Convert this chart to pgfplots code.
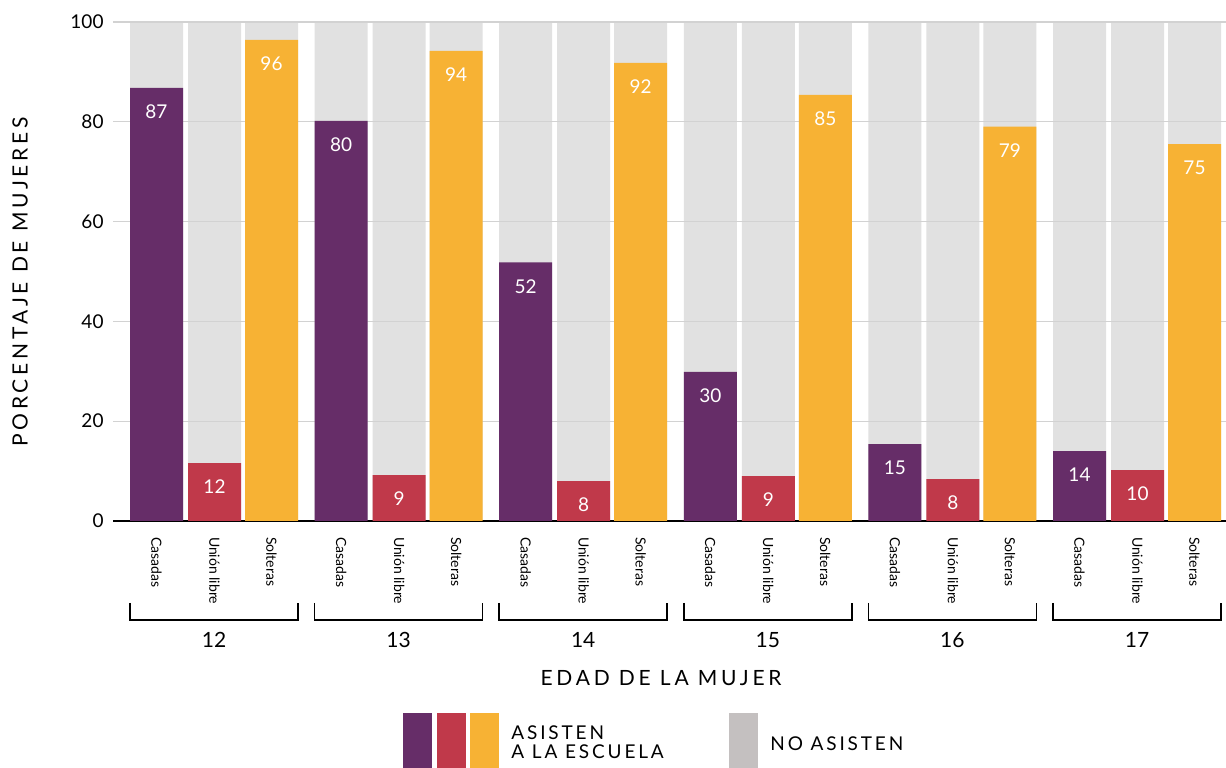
\documentclass[border=0pt]{standalone}
\usepackage{pgfplots}
\usepackage{pgfplotstable}
\pgfplotsset{compat=1.18}
\usepackage{fontspec}
\setmainfont{Lato}
\newfontfamily\spaced[LetterSpace=18]{Lato}
\newfontfamily\lspaced[LetterSpace=15]{Lato}
\definecolor{cpurple}{HTML}{662D68}
\definecolor{cred}{HTML}{C0394A}
\definecolor{corange}{HTML}{F7B234}
\definecolor{cgray}{HTML}{E1E1E1}
\definecolor{clgray}{HTML}{C4C0C0}
\definecolor{cgrid}{HTML}{D2D2D2}

\pgfplotstableread{
x y lab
156.5 86.8 87
341.1 80.2 80
525.7 51.8 52
710.3 29.9 30
894.9 15.4 15
1079.5 14.0 14
}\casadas
\pgfplotstableread{
x y lab
214.5 11.6 12
399.1 9.2 9
583.7 8.0 8
768.3 9.0 9
952.9 8.4 8
1137.5 10.2 10
}\union
\pgfplotstableread{
x y lab
271.5 96.4 96
456.1 94.2 94
640.7 91.8 92
825.3 85.4 85
1009.9 79.0 79
1194.5 75.5 75
}\solteras
\pgfplotstableread{
x y
156.5 100
214.5 100
271.5 100
341.1 100
399.1 100
456.1 100
525.7 100
583.7 100
640.7 100
710.3 100
768.3 100
825.3 100
894.9 100
952.9 100
1009.9 100
1079.5 100
1137.5 100
1194.5 100
}\total

\newcommand{\grp}[4]{%
  \draw[black, line width=0.8pt] (axis cs:#1,-16.4) -- (axis cs:#1,-19.84) -- (axis cs:#2,-19.84) -- (axis cs:#2,-16.4);
  \node[font=\fontsize{10.5}{12}\selectfont] at (axis cs:#3,-23.85) {#4};
}

\begin{document}
\begin{tikzpicture}
\begin{axis}[
  set layers,
  x=0.5pt, y=2.495pt,
  xmin=113, xmax=1226, ymin=0, ymax=100,
  clip=false,
  axis x line=bottom, axis y line=left,
  x axis line style={-, black, line width=1pt, on layer=axis foreground},
  y axis line style={draw=none},
  major tick length=0pt,
  ymajorgrids, grid style={cgrid, line width=0.6pt},
  ytick={0,20,40,60,80,100},
  yticklabel style={font=\fontsize{9.5}{11}\selectfont, xshift=-1.2pt, /pgf/number format/assume math mode=true},
  xtick={156.5,214.5,271.5,341.1,399.1,456.1,525.7,583.7,640.7,710.3,768.3,825.3,894.9,952.9,1009.9,1079.5,1137.5,1194.5},
  xticklabels={Casadas,Unión libre,Solteras,Casadas,Unión libre,Solteras,Casadas,Unión libre,Solteras,Casadas,Unión libre,Solteras,Casadas,Unión libre,Solteras,Casadas,Unión libre,Solteras},
  xticklabel style={rotate=-90, anchor=west, font=\fontsize{7}{8}\selectfont, xshift=4.5pt, yshift=0pt},
  bar width=53, 
  nodes near coords style={anchor=center, yshift=-12pt, text=white, font=\fontsize{9.5}{11}\selectfont},
]
\addplot[ybar, bar shift=0pt, fill=cgray, draw=none, on layer=axis background] table[x=x,y=y]{\total};
\addplot[ybar, bar shift=0pt, fill=cpurple, draw=none, nodes near coords, point meta=explicit symbolic] table[x=x,y=y,meta=lab]{\casadas};
\addplot[ybar, bar shift=0pt, fill=cred, draw=none, nodes near coords, point meta=explicit symbolic] table[x=x,y=y,meta=lab]{\union};
\addplot[ybar, bar shift=0pt, fill=corange, draw=none, nodes near coords, point meta=explicit symbolic] table[x=x,y=y,meta=lab]{\solteras};

\grp{130}{298}{214}{12}
\grp{314.6}{482.6}{398.6}{13}
\grp{499.2}{667.2}{583.2}{14}
\grp{683.8}{851.8}{767.8}{15}
\grp{868.4}{1036.4}{952.4}{16}
\grp{1053}{1221}{1137}{17}
% axis titles
\node[font=\spaced\fontsize{10.5}{12}\selectfont] at (axis cs:661,-31.46) {EDAD DE LA MUJER};
\node[font=\spaced\fontsize{10.5}{12}\selectfont, rotate=90] at (axis cs:20,47.9) {PORCENTAJE DE MUJERES};
% legend
\fill[cpurple] (axis cs:403,-38.48) rectangle (axis cs:432,-49.5);
\fill[cred] (axis cs:437,-38.48) rectangle (axis cs:466,-49.5);
\fill[corange] (axis cs:470,-38.48) rectangle (axis cs:499,-49.5);
\fill[clgray] (axis cs:729,-38.48) rectangle (axis cs:758,-49.5);
\node[anchor=west, inner sep=0pt, font=\lspaced\fontsize{9.5}{11}\selectfont] at (axis cs:511,-42.48) {ASISTEN};
\node[anchor=west, inner sep=0pt, font=\lspaced\fontsize{9.5}{11}\selectfont] at (axis cs:511,-46.29) {A LA ESCUELA};
\node[anchor=west, inner sep=0pt, font=\lspaced\fontsize{9.5}{11}\selectfont] at (axis cs:770,-44.69) {NO ASISTEN};
\coordinate (bbl) at (axis cs:0,-49.5);
\coordinate (btr) at (axis cs:1226,104.4);
\end{axis}
\pgfresetboundingbox
\path[use as bounding box] (bbl) rectangle (btr);
\end{tikzpicture}
\end{document}
